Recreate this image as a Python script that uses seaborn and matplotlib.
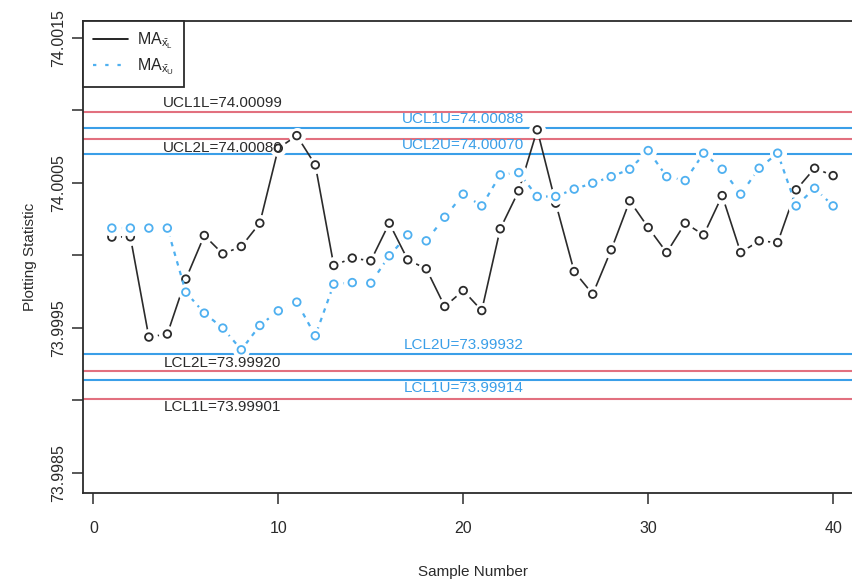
import numpy as np
import pandas as pd
import matplotlib
matplotlib.use("Agg")
import matplotlib.pyplot as plt
import seaborn as sns
from matplotlib.lines import Line2D

sample = list(range(1, 41))
ma_lower = [74.000126, 74.000128, 73.999436, 73.999457, 73.999836, 74.000137, 74.000010, 74.000061,
            74.000222, 74.000739, 74.000826, 74.000624, 73.999930, 73.999981, 73.999962, 74.000222,
            73.999969, 73.999907, 73.999647, 73.999757, 73.999619, 74.000183, 74.000445, 74.000866,
            74.000360, 73.999888, 73.999732, 74.000038, 74.000376, 74.000192, 74.000019, 74.000222,
            74.000141, 74.000412, 74.000019, 74.000100, 74.000088, 74.000452, 74.000601, 74.000550]
ma_upper = [74.000188, 74.000188, 74.000188, 74.000188, 73.999746, 73.999601, 73.999498, 73.999348,
            73.999516, 73.999617, 73.999677, 73.999445, 73.999801, 73.999812, 73.999808, 73.999997,
            74.000141, 74.000100, 74.000263, 74.000422, 74.000341, 74.000555, 74.000571, 74.000406,
            74.000406, 74.000457, 74.000498, 74.000543, 74.000594, 74.000723, 74.000543, 74.000516,
            74.000705, 74.000594, 74.000422, 74.000601, 74.000705, 74.000341, 74.000463, 74.000341]

limits_lower = {"UCL1L": 74.00099, "UCL2L": 74.00080, "LCL2L": 73.99920, "LCL1L": 73.99901}
limits_upper = {"UCL1U": 74.00088, "UCL2U": 74.00070, "LCL2U": 73.99932, "LCL1U": 73.99914}

red = "#E2707F"
blue = "#3A9FE8"
blue_pts = "#4FB0F0"
dark = "#2b2b2b"

df = pd.DataFrame({"Sample": sample, "MAL": ma_lower, "MAU": ma_upper})

sns.set_style("ticks")
plt.rcParams["font.family"] = ["Liberation Sans", "DejaVu Sans"]
plt.rcParams["mathtext.fontset"] = "custom"
plt.rcParams["mathtext.rm"] = "Liberation Sans"
plt.rcParams["mathtext.it"] = "Liberation Sans"

fig = plt.figure(figsize=(8.52, 5.84), dpi=100)
W, H = 852, 584
ax = fig.add_axes([83 / W, (H - 493) / H, (862 - 83) / W, (493 - 21) / H])
ax.set_xlim(-0.56, 41.56)
ax.set_ylim(73.99836, 74.001617)

# control limits
for name, v in limits_lower.items():
    ax.axhline(v, color=red, lw=1.5, zorder=1)
for name, v in limits_upper.items():
    ax.axhline(v, color=blue, lw=1.5, zorder=1)

# labels for limits
lab_kw = dict(fontsize=11, ha="center", zorder=10)
ax.text(7, limits_lower["UCL1L"] + 0.00001, "UCL1L=74.00099", color=dark, va="bottom", **lab_kw)
ax.text(7, limits_lower["UCL2L"] - 0.00001, "UCL2L=74.00080", color=dark, va="top", **lab_kw)
ax.text(7, limits_lower["LCL2L"] + 0.00001, "LCL2L=73.99920", color=dark, va="bottom", **lab_kw)
ax.text(7, limits_lower["LCL1L"] - 0.00001, "LCL1L=73.99901", color=dark, va="top", **lab_kw)
ax.text(20, limits_upper["UCL1U"] + 0.00001, "UCL1U=74.00088", color=blue, va="bottom", **lab_kw)
ax.text(20, limits_upper["UCL2U"] + 0.00001, "UCL2U=74.00070", color=blue, va="bottom", **lab_kw)
ax.text(20, limits_upper["LCL2U"] + 0.00001, "LCL2U=73.99932", color=blue, va="bottom", **lab_kw)
ax.text(20, limits_upper["LCL1U"] - 0.00001, "LCL1U=73.99914", color=blue, va="top", **lab_kw)

# series (type "b" style: line, white gap, open circle)
sns.lineplot(data=df, x="Sample", y="MAL", ax=ax, color=dark, lw=1.2, zorder=3)
sns.scatterplot(data=df, x="Sample", y="MAL", ax=ax, color="white", s=150, linewidth=0, zorder=4)
sns.scatterplot(data=df, x="Sample", y="MAL", ax=ax, facecolor="none", edgecolor=dark, s=30, linewidth=1.3, zorder=5)

sns.lineplot(data=df, x="Sample", y="MAU", ax=ax, color=blue_pts, lw=1.6, zorder=6)
ax.lines[-1].set_dashes([2, 2.5])
sns.scatterplot(data=df, x="Sample", y="MAU", ax=ax, color="white", s=150, linewidth=0, zorder=7)
sns.scatterplot(data=df, x="Sample", y="MAU", ax=ax, facecolor="none", edgecolor=blue_pts, s=30, linewidth=1.3, zorder=8)

# axes
yt = np.arange(73.9985, 74.00151, 0.0005)
ax.set_yticks(yt)
ax.set_yticklabels(["73.9985", "", "73.9995", "", "74.0005", "", "74.0015"],
                   rotation=90, va="center", fontsize=11.5, color=dark)
ax.set_xticks([0, 10, 20, 30, 40])
ax.set_xticklabels(["0", "10", "20", "30", "40"], fontsize=11.5, color=dark)
ax.tick_params(axis="both", direction="out", length=8, width=1.1, color=dark)
ax.tick_params(axis="x", pad=12)
ax.tick_params(axis="y", pad=4)
for s in ax.spines.values():
    s.set_color(dark)
    s.set_linewidth(1.3)
ax.set_xlabel("Sample Number", fontsize=11, color=dark, labelpad=21)
ax.set_ylabel("Plotting Statistic", fontsize=11, color=dark, labelpad=10)

handles = [Line2D([0], [0], color="black", lw=1.2),
           Line2D([0], [0], color=blue_pts, lw=1.6, dashes=[1.5, 4])]
leg = ax.legend(handles, [r"MA$_{\bar{x}_L}$", r"MA$_{\bar{x}_U}$"], loc="upper left",
                fontsize=11.5, frameon=True, fancybox=False, edgecolor=dark, framealpha=1,
                borderaxespad=0, handlelength=2.2, handletextpad=0.6, borderpad=0.6,
                labelspacing=0.35)
leg.get_frame().set_linewidth(1.3)

fig.savefig("out.png", dpi=100)
